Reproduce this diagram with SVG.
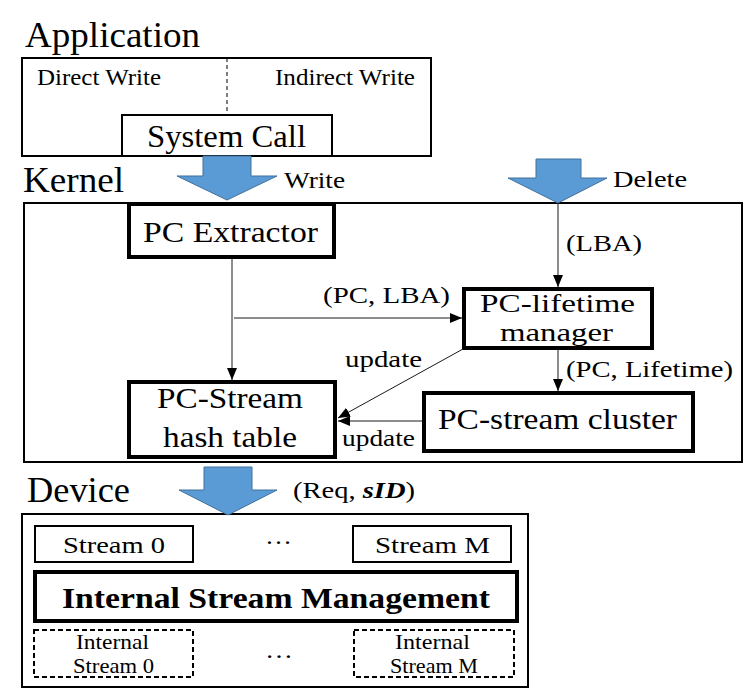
<svg xmlns="http://www.w3.org/2000/svg" width="754" height="694" viewBox="0 0 754 694" font-family="Liberation Serif, Times New Roman, serif">
<defs>
<style>
text{font-family:'Liberation Serif','Times New Roman',serif;fill:#000}
.box{fill:#fff;stroke:#000;stroke-width:2}
.thick{fill:#fff;stroke:#000;stroke-width:4}
.dash{fill:#fff;stroke:#000;stroke-width:2;stroke-dasharray:5 3}
.conn{stroke:#1a1a1a;stroke-width:1;fill:none}
.blk{fill:#5B9BD5;stroke:#41719C;stroke-width:1}
.t35{font-size:35px}
.t31{font-size:31px}
.t29{font-size:29px}
.t26{font-size:26px}
.t24{font-size:24px}
.t23{font-size:23px}
.t21{font-size:21px}
</style>
<marker id="ah" markerUnits="userSpaceOnUse" markerWidth="12" markerHeight="10" refX="12" refY="5" orient="auto">
<path d="M0,0 L12,5 L0,10 z" fill="#000"/>
</marker>
</defs>
<rect width="754" height="694" fill="#fff"/>

<g id="application">
<text class="t35" x="25" y="47" textLength="175" lengthAdjust="spacingAndGlyphs">Application</text>
<rect class="box" x="22" y="58" width="409" height="98"/>
<line x1="227" y1="58" x2="227" y2="114" stroke="#000" stroke-width="1" stroke-dasharray="4 3"/>
<text class="t23" x="37" y="85" textLength="124" lengthAdjust="spacingAndGlyphs">Direct Write</text>
<text class="t23" x="275" y="85" textLength="140" lengthAdjust="spacingAndGlyphs">Indirect Write</text>
</g>
<g id="system-call">
<rect class="box" x="122" y="115" width="210" height="41"/>
<text class="t31" x="147" y="147" textLength="159" lengthAdjust="spacingAndGlyphs">System Call</text>
</g>

<g id="kernel">
<text class="t35" x="23" y="192" textLength="101" lengthAdjust="spacingAndGlyphs">Kernel</text>
<rect class="box" x="24" y="203" width="718" height="259"/>
</g>

<g id="pc-extractor">
<rect class="thick" x="129" y="204" width="205" height="53"/>
<text class="t29" x="143" y="242" textLength="175" lengthAdjust="spacingAndGlyphs">PC Extractor</text>
</g>
<g id="pc-lifetime-manager">
<rect class="thick" x="464" y="289" width="188" height="59"/>
<text class="t26" x="480" y="312" textLength="155" lengthAdjust="spacingAndGlyphs">PC-lifetime</text>
<text class="t26" x="500" y="341" textLength="113" lengthAdjust="spacingAndGlyphs">manager</text>
</g>
<g id="pc-stream-cluster">
<rect class="thick" x="424" y="393" width="269" height="58"/>
<text class="t29" x="438" y="429" textLength="239" lengthAdjust="spacingAndGlyphs">PC-stream cluster</text>
</g>
<g id="pc-stream-hash-table">
<rect class="thick" x="129" y="382" width="206" height="75"/>
<text class="t29" x="157" y="408" textLength="146" lengthAdjust="spacingAndGlyphs">PC-Stream</text>
<text class="t29" x="163" y="447" textLength="134" lengthAdjust="spacingAndGlyphs">hash table</text>
</g>

<g id="device">
<text class="t35" x="27" y="502" textLength="103" lengthAdjust="spacingAndGlyphs">Device</text>
<rect class="box" x="22" y="514" width="506" height="173"/>
</g>
<g id="stream-0">
<rect class="box" x="35" y="526" width="158" height="36"/>
<text class="t24" x="63" y="553" textLength="102" lengthAdjust="spacingAndGlyphs">Stream 0</text>
</g>
<g id="stream-m">
<rect class="box" x="353" y="526" width="158" height="36"/>
<text class="t24" x="375" y="553" textLength="115" lengthAdjust="spacingAndGlyphs">Stream M</text>
</g>
<text class="t24" x="265" y="544" textLength="27" lengthAdjust="spacingAndGlyphs">…</text>
<g id="internal-stream-management">
<rect class="thick" x="35" y="572" width="482" height="49"/>
<text x="62" y="608" font-size="29" font-weight="bold" textLength="428" lengthAdjust="spacingAndGlyphs">Internal  Stream Management</text>
</g>
<g id="internal-stream-0">
<rect class="dash" x="34" y="630" width="159" height="47"/>
<text class="t21" x="76" y="649" textLength="73" lengthAdjust="spacingAndGlyphs">Internal</text>
<text class="t21" x="73" y="673" textLength="81" lengthAdjust="spacingAndGlyphs">Stream 0</text>
</g>
<g id="internal-stream-m">
<rect class="dash" x="354" y="630" width="160" height="47"/>
<text class="t21" x="395" y="649" textLength="75" lengthAdjust="spacingAndGlyphs">Internal</text>
<text class="t21" x="390" y="673" textLength="88" lengthAdjust="spacingAndGlyphs">Stream M</text>
</g>
<text class="t24" x="265" y="658" textLength="28" lengthAdjust="spacingAndGlyphs">…</text>

<g id="connectors">
<polygon class="blk" points="203,156 251,156 251,176 277,176 227,200 177,176 203,176"/>
<polygon class="blk" points="536,159 581,159 581,178 607,178 558,203 508,178 536,178"/>
<polygon class="blk" points="204,467 252,467 252,490 277,490 228,515 179,490 204,490"/>
<line class="conn" x1="232" y1="259" x2="232" y2="380" marker-end="url(#ah)"/>
<line class="conn" x1="234" y1="318" x2="462" y2="318" marker-end="url(#ah)"/>
<line class="conn" x1="558" y1="203" x2="558" y2="287" marker-end="url(#ah)"/>
<line class="conn" x1="558" y1="350" x2="558" y2="391" marker-end="url(#ah)"/>
<line class="conn" x1="463" y1="349" x2="338" y2="418" marker-end="url(#ah)"/>
<line class="conn" x1="422" y1="421" x2="338" y2="421" marker-end="url(#ah)"/>
<text class="t24" x="284" y="188" textLength="61" lengthAdjust="spacingAndGlyphs">Write</text>
<text class="t24" x="613" y="187" textLength="74" lengthAdjust="spacingAndGlyphs">Delete</text>
<text class="t24" x="566" y="251" textLength="76" lengthAdjust="spacingAndGlyphs">(LBA)</text>
<text class="t24" x="323" y="303" textLength="127" lengthAdjust="spacingAndGlyphs">(PC, LBA)</text>
<text class="t24" x="566" y="377" textLength="167" lengthAdjust="spacingAndGlyphs">(PC, Lifetime)</text>
<text class="t24" x="345" y="367" textLength="77" lengthAdjust="spacingAndGlyphs">update</text>
<text class="t24" x="342" y="446" textLength="73" lengthAdjust="spacingAndGlyphs">update</text>
<text class="t24" x="293" y="498" textLength="122" lengthAdjust="spacingAndGlyphs">(Req, <tspan font-weight="bold" font-style="italic">sID</tspan>)</text>
</g>
</svg>
